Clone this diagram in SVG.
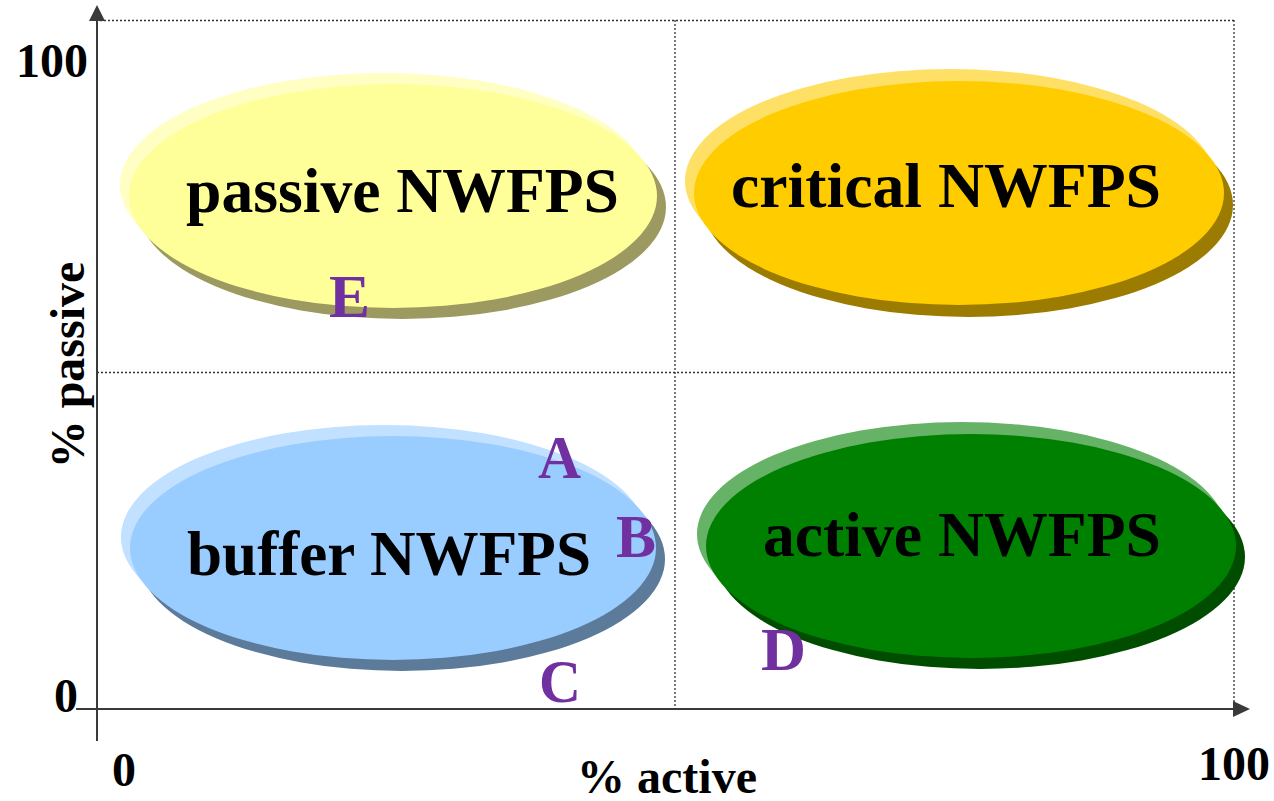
<svg xmlns="http://www.w3.org/2000/svg" width="1274" height="801" viewBox="0 0 1274 801">
<style>
text{font-family:"Liberation Serif","Times New Roman",serif;font-weight:bold}
.lbl{font-size:64px;fill:#000}
.pt{font-size:62px;fill:#7030A0}
.ax{font-size:48px;fill:#000}
.dot{stroke:#333;stroke-width:1.3;stroke-dasharray:2,2;fill:none}
.axis{stroke:#3a3a3a;stroke-width:2;fill:none}
</style>
<rect width="1274" height="801" fill="#fff"/>
<g id="grid">
<line class="dot" x1="100" y1="20.5" x2="1234" y2="20.5"/>
<line class="dot" x1="97" y1="372.5" x2="1234" y2="372.5"/>
<line class="dot" x1="675" y1="20" x2="675" y2="709"/>
<line class="dot" x1="1234" y1="20" x2="1234" y2="709"/>
</g>
<g id="connectors">
<line class="axis" x1="97" y1="741" x2="97" y2="18"/>
<polygon points="97,5 89,21 105,21" fill="#3a3a3a"/>
<line class="axis" x1="76" y1="709" x2="1236" y2="709"/>
<polygon points="1250,709 1233,701 1233,717" fill="#3a3a3a"/>
</g>
<g id="passive">
<ellipse cx="384" cy="185" rx="264" ry="112" fill="#FFFFC4"/>
<ellipse cx="402" cy="207" rx="264" ry="112" fill="#9C9A60"/>
<ellipse cx="393" cy="196" rx="264" ry="112" fill="#FFFF99"/>
<text class="lbl" x="186" y="212" textLength="433" lengthAdjust="spacingAndGlyphs">passive NWFPS</text>
</g>
<g id="critical">
<ellipse cx="950" cy="181" rx="265" ry="112" fill="#FFE066"/>
<ellipse cx="968" cy="205" rx="265" ry="112" fill="#9C7C00"/>
<ellipse cx="959" cy="193" rx="265" ry="112" fill="#FFCC00"/>
<text class="lbl" x="731" y="207" textLength="430" lengthAdjust="spacingAndGlyphs">critical NWFPS</text>
</g>
<g id="buffer">
<ellipse cx="384" cy="537" rx="263" ry="112" fill="#C2E0FF"/>
<ellipse cx="402" cy="559" rx="263" ry="112" fill="#5C7A99"/>
<ellipse cx="393" cy="548" rx="263" ry="112" fill="#99CCFF"/>
<text class="lbl" x="187" y="575" textLength="404" lengthAdjust="spacingAndGlyphs">buffer NWFPS</text>
</g>
<g id="active">
<ellipse cx="962" cy="534" rx="265" ry="112" fill="#66B266"/>
<ellipse cx="980" cy="557" rx="265" ry="112" fill="#004D00"/>
<ellipse cx="971" cy="546" rx="265" ry="112" fill="#008000"/>
<text class="lbl" x="763" y="556" textLength="398" lengthAdjust="spacingAndGlyphs">active NWFPS</text>
</g>
<g id="points">
<text class="pt" x="538" y="478" textLength="43" lengthAdjust="spacingAndGlyphs">A</text>
<text class="pt" x="616" y="557" textLength="40" lengthAdjust="spacingAndGlyphs">B</text>
<text class="pt" x="539" y="702" textLength="42" lengthAdjust="spacingAndGlyphs">C</text>
<text class="pt" x="761" y="670" textLength="45" lengthAdjust="spacingAndGlyphs">D</text>
<text class="pt" x="329" y="317" textLength="41" lengthAdjust="spacingAndGlyphs">E</text>
</g>
<g id="labels">
<text class="ax" x="16" y="77">100</text>
<text class="ax" x="54" y="712">0</text>
<text class="ax" x="112" y="786">0</text>
<text class="ax" x="1198" y="780">100</text>
<text class="ax" x="577" y="793">% active</text>
<text class="ax" transform="translate(84,365) rotate(-90)" text-anchor="middle">% passive</text>
</g>
</svg>
